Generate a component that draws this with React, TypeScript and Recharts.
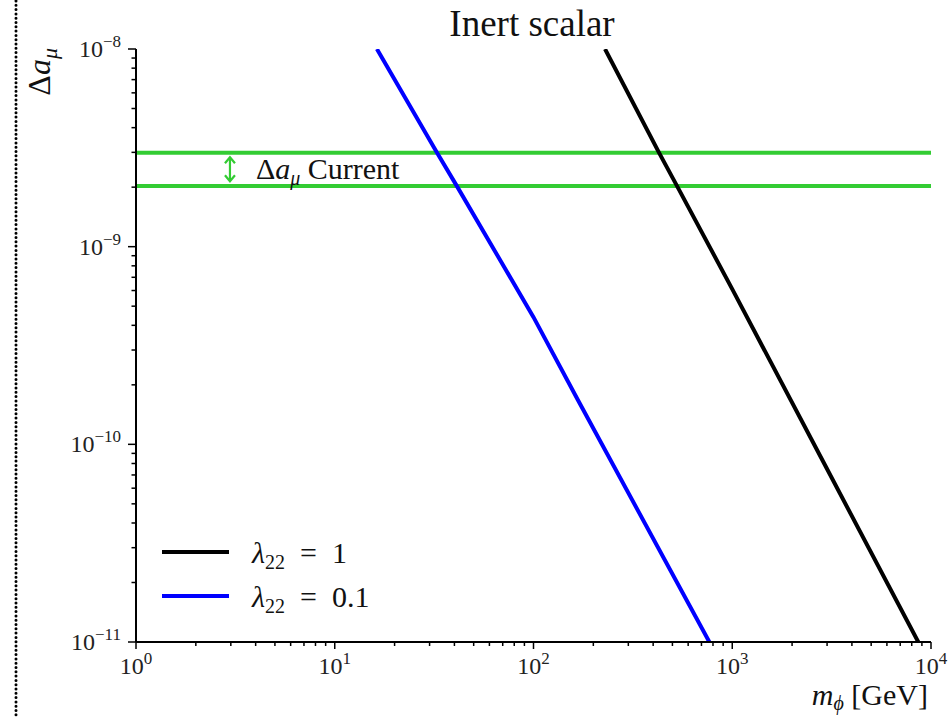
import { LineChart, Line, XAxis, YAxis, ReferenceLine, ReferenceDot } from "recharts";

const FONT = "'Liberation Serif', 'DejaVu Serif', serif";
const GREEN = "#33cc33";

// lambda_22 = 1
const massLam1 = [229, 428, 527, 1000, 3000, 8630];
const amuLam1 = [1e-8, 2.99e-9, 2.03e-9, 6.1e-10, 7.5e-11, 1e-11];
// lambda_22 = 0.1
const massLam01 = [16.3, 32.6, 41.1, 100, 167, 767];
const amuLam01 = [1e-8, 3.0e-9, 2.03e-9, 4.4e-10, 1.68e-10, 1e-11];

// current Delta a_mu band (lower, upper)
const amuCurrent = [2.03e-9, 2.99e-9];

const xDecades = [1, 10, 100, 1000, 10000];
const yDecades = [1e-11, 1e-10, 1e-9, 1e-8];

const series = [
  { name: "1", color: "#000000", mass: massLam1, amu: amuLam1 },
  { name: "0.1", color: "#0000ff", mass: massLam01, amu: amuLam01 },
];

const withMinors = (decades: number[]) => {
  const out: number[] = [];
  decades.forEach((d, i) => {
    out.push(d);
    if (i < decades.length - 1) for (let k = 2; k < 10; k++) out.push(d * k);
  });
  return out;
};

const isMajor = (v: number) => Math.abs(Math.log10(v) - Math.round(Math.log10(v))) < 1e-6;
const expOf = (v: number) => {
  const e = Math.round(Math.log10(v));
  return e < 0 ? "\u2212" + Math.abs(e) : String(e);
};

function XTick({ x, y, payload }: any) {
  const v = payload.value;
  const major = isMajor(v);
  return (
    <g>
      <line x1={x} x2={x} y1={y} y2={y + (major ? 7 : 4)} stroke="#000" strokeWidth={1.5} />
      {major && (
        <text x={x} y={y + 32} textAnchor="middle" fontSize={24} fontFamily={FONT} fill="#222">
          10<tspan dy={-10} fontSize={17}>{expOf(v)}</tspan>
        </text>
      )}
    </g>
  );
}

function YTick({ x, y, payload }: any) {
  const v = payload.value;
  const major = isMajor(v);
  return (
    <g>
      <line x1={x - (major ? 8 : 4.5)} x2={x} y1={y} y2={y} stroke="#000" strokeWidth={1.5} />
      {major && (
        <text x={x - 15} y={y + 8} textAnchor="end" fontSize={24} fontFamily={FONT} fill="#222">
          10<tspan dy={-10} fontSize={17}>{expOf(v)}</tspan>
        </text>
      )}
    </g>
  );
}

function CurrentLabel({ cx, cy }: any) {
  return (
    <g>
      <line x1={cx} x2={cx} y1={cy - 11} y2={cy + 11} stroke={GREEN} strokeWidth={2.2} />
      <polyline points={`${cx - 5},${cy - 6} ${cx},${cy - 12} ${cx + 5},${cy - 6}`} fill="none" stroke={GREEN} strokeWidth={2.2} />
      <polyline points={`${cx - 5},${cy + 6} ${cx},${cy + 12} ${cx + 5},${cy + 6}`} fill="none" stroke={GREEN} strokeWidth={2.2} />
      <text x={cx + 26} y={cy + 10} fontSize={30} fontFamily={FONT} fill="#111">
        {"\u0394"}
        <tspan fontStyle="italic">a</tspan>
        <tspan dy={6} fontSize={20} fontStyle="italic">{"\u03bc"}</tspan>
        <tspan dy={-6}>{" Current"}</tspan>
      </text>
    </g>
  );
}

export default function App() {
  return (
    <div style={{ position: "absolute", left: 0, top: 0, width: 948, height: 717, background: "#fff" }}>
      <LineChart width={948} height={717} margin={{ top: 49, right: 17, bottom: 0, left: 0 }}>
        <XAxis
          xAxisId="x"
          dataKey="m"
          type="number"
          scale="log"
          domain={[1, 10000]}
          allowDataOverflow
          ticks={withMinors(xDecades)}
          interval={0}
          tick={(p: any) => <XTick {...p} />}
          tickLine={false}
          tickSize={0}
          tickMargin={0}
          height={75}
          axisLine={{ stroke: "#000", strokeWidth: 2 }}
        />
        <XAxis xAxisId="top" orientation="top" type="number" domain={[0, 1]} tick={false} tickLine={false} height={0} axisLine={{ stroke: "#000", strokeWidth: 2 }} />
        <YAxis
          yAxisId="y"
          type="number"
          scale="log"
          domain={[1e-11, 1e-8]}
          allowDataOverflow
          ticks={withMinors(yDecades)}
          interval={0}
          tick={(p: any) => <YTick {...p} />}
          tickLine={false}
          tickSize={0}
          tickMargin={0}
          width={136}
          axisLine={{ stroke: "#000", strokeWidth: 2 }}
        />
        <YAxis yAxisId="right" orientation="right" type="number" domain={[0, 1]} tick={false} tickLine={false} width={0} axisLine={{ stroke: "#000", strokeWidth: 2 }} />
        {amuCurrent.map((v) => (
          <ReferenceLine key={v} xAxisId="x" yAxisId="y" y={v} stroke={GREEN} strokeWidth={4} />
        ))}
        <ReferenceDot
          xAxisId="x"
          yAxisId="y"
          x={2.97}
          y={Math.sqrt(amuCurrent[0] * amuCurrent[1])}
          shape={(p: any) => <CurrentLabel {...p} />}
        />
        {series.map((s) => (
          <Line
            key={s.name}
            xAxisId="x"
            yAxisId="y"
            data={s.mass.map((m, i) => ({ m, amu: s.amu[i] }))}
            dataKey="amu"
            type="linear"
            stroke={s.color}
            strokeWidth={4}
            dot={false}
            isAnimationActive={false}
          />
        ))}
      </LineChart>
      <svg width={948} height={717} style={{ position: "absolute", left: 0, top: 0, pointerEvents: "none" }}>
        <line x1={16} x2={16} y1={1} y2={717} stroke="#000" strokeWidth={3} strokeDasharray="0 4.3" strokeLinecap="round" />
        <text x={532} y={36} textAnchor="middle" fontSize={37} fontFamily={FONT} fill="#111">
          Inert scalar
        </text>
        <text x={50} y={48} textAnchor="end" fontSize={32} fontFamily={FONT} fill="#111" transform="rotate(-90 50 48)">
          {"\u0394"}
          <tspan fontStyle="italic">a</tspan>
          <tspan dy={7} fontSize={22} fontStyle="italic">{"\u03bc"}</tspan>
        </text>
        <text x={928} y={705} textAnchor="end" fontSize={30} fontFamily={FONT} fill="#111">
          <tspan fontStyle="italic">m</tspan>
          <tspan dy={5} fontSize={20} fontStyle="italic">{"\u03d5"}</tspan>
          <tspan dy={-5}>{" [GeV]"}</tspan>
        </text>
        {series.map((s, i) => (
          <g key={s.name}>
            <line x1={162} x2={229} y1={552 + i * 44} y2={552 + i * 44} stroke={s.color} strokeWidth={4} />
            <text x={252} y={563 + i * 44} fontSize={30} fontFamily={FONT} fill="#111">
              <tspan fontStyle="italic">{"\u03bb"}</tspan>
              <tspan dy={6} fontSize={20}>22</tspan>
              <tspan dy={-6}>{"\u2002=\u2002" + s.name}</tspan>
            </text>
          </g>
        ))}
      </svg>
    </div>
  );
}
